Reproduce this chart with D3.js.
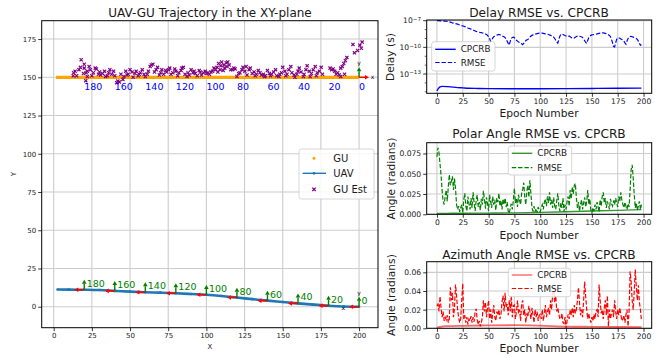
<!DOCTYPE html>
<html>
<head>
<meta charset="utf-8">
<script src="https://cdn.jsdelivr.net/npm/d3@7"></script>
<style>
  body { margin: 0; background: #fff; }
  svg { display: block; font-family: "DejaVu Sans", sans-serif; }
</style>
</head>
<body>
<svg id="chart" width="670" height="358"></svg>
<script>
// ---- trajectory data ----
const wpEpochs = [0, 10, 20, 30, 40, 50, 60, 70, 80, 90, 100, 110, 120, 130, 140, 150, 160, 170, 180, 190, 198];
const uavX = [200, 190, 180, 170, 160, 150, 140, 130, 120, 110, 100, 90, 80, 70, 60, 50, 40, 30, 20, 10, 2.5];
const uavY = [0, 0.2, 0.7, 1.4, 2.2, 3.1, 4.0, 5.0, 6.0, 7.0, 7.8, 8.3, 8.8, 9.2, 9.5, 9.9, 10.4, 10.9, 11.1, 11.2, 11.3];
const guX = [200, 190, 180, 170, 160, 150, 140, 130, 120, 110, 100, 90, 80, 70, 60, 50, 40, 30, 20, 10, 1.5];
const guY = [150, 150, 150, 150, 150, 150, 150, 150, 150, 150, 150, 150, 150, 150, 150, 150, 150, 150, 150, 150, 150];
const markEpochs = [0, 20, 40, 60, 80, 100, 120, 140, 160, 180];

const guEstX = [202, 200.5, 201.5, 199, 196, 197, 192, 191, 190, 189, 188, 190.5, 187, 186, 188, 185, 184, 183, 181, 182,
  176, 175.2, 174, 172.6, 172, 171.3, 170, 168.8, 168, 167.4, 166, 165.2, 164, 163.5, 162, 160.8, 160, 159.3, 158, 157.4,
  156, 155.3, 154, 152.8, 152, 151.4, 150, 149.2, 148, 147.5, 146, 145.3, 144, 142.7, 142, 141.2, 140, 138.6, 138, 137.3,
  136, 135.1, 134, 132.8, 132, 131.2, 130, 128.7, 128, 126.6, 126, 125.2, 124, 123.3, 122, 121.1, 120, 118.8, 118, 117.2,
  116, 115, 114, 113.5, 113, 112, 111.5, 111, 110, 109.5, 109, 108, 107.5, 107, 106, 105, 104, 103, 102, 101,
  100, 99.2, 98, 96.8, 96, 95.3, 94, 92.7, 92, 91.2, 90, 88.8, 88, 87.3, 86, 84.9, 84, 83.4, 82, 81.2,
  80, 79.3, 78, 76.8, 76, 75.2, 74, 73.3, 72, 70.8, 70, 69.2, 68, 67.1, 66, 65, 64, 63.2, 62, 61.3,
  60, 59.2, 58, 56.8, 56, 55.3, 54, 53.2, 52, 51.3, 50, 48.8, 48, 47.2, 46, 45.3, 44, 43, 42, 41.3,
  40, 39.2, 38, 36.8, 36, 35.2, 34, 33.3, 32, 30.7, 30, 29.3, 28, 27.2, 26, 25, 24, 23.2, 22, 21.3,
  20, 19.5, 18, 17.5, 16.5, 15, 14, 13, 12.8, 21, 22, 20];
const guEstY = [173, 171, 169, 167.5, 171.5, 166, 163, 161, 159, 157, 156, 152, 151.5, 153, 150.5, 152, 154, 155.5, 156, 155,
  152, 156.5, 154, 153, 151, 157, 155, 152.5, 150.5, 154, 157.5, 155, 152, 150.5, 153.5, 156, 154, 152, 150, 151.5,
  153, 157, 155, 152, 151, 154, 156.5, 153, 152, 150.5, 151, 155, 153.5, 152, 151, 152.5, 154.5, 151, 150.5, 152,
  151.5, 153, 154.5, 152, 151, 153.5, 152.5, 156, 155, 151.5, 157, 154, 156.5, 155, 153, 152.5, 150.5, 155.5, 156, 155,
  155, 158, 160, 157, 159.5, 156, 158, 154.5, 160, 157.5, 155, 159, 153.5, 156.5, 155, 156, 154, 153.5, 152, 153,
  152.5, 154, 153, 151.5, 153.5, 154.5, 151, 152.5, 154, 153, 155, 151.5, 153, 150.5, 152, 156.5, 156, 154.5, 153, 151,
  154, 155.5, 153, 152, 156, 155, 153.5, 154.5, 152, 155, 153, 151.5, 156.5, 155, 153.5, 158.5, 158, 157, 154, 152,
  150.5, 152, 155, 153, 152, 151, 154, 152.5, 150, 153.5, 155, 152, 151.5, 154, 150.5, 148.5, 152, 147, 147.5, 146.5,
  151, 154, 152, 155, 153, 151, 150.5, 154, 152.5, 151.5, 153.5, 152, 155.5, 156, 153, 151, 155, 157, 154, 153,
  158.5, 152.5, 161.5, 156.5, 155, 151, 154, 153, 151, 147.8, 150.5, 156];

// ---- error curves ----
const epochs = d3.range(199);
const delayRmseLog = [-7.0, -7.0, -7.0, -7.01, -7.02, -7.02, -7.03, -7.04, -7.05, -7.06, -7.08, -7.1, -7.12,
  -7.16, -7.2, -7.24, -7.27, -7.3, -7.33, -7.35, -7.38, -7.43, -7.47, -7.5, -7.55, -7.58, -7.62, -7.66, -7.7, -7.75,
  -7.82, -7.86, -7.9, -7.95, -8.0, -8.05, -8.1, -8.15, -8.2, -8.24, -8.27, -8.3, -8.33, -8.35, -8.38, -8.42, -8.45, -8.5, -8.55,
  -8.65, -8.8, -9.0, -9.35, -9.2, -8.95, -8.8, -8.75,
  -8.7, -8.62, -8.58, -8.55, -8.58, -8.64, -8.7, -8.76, -8.8, -8.9, -9.05, -9.3, -9.55, -9.75,
  -9.3, -9.0, -8.88, -8.85, -8.92, -9.05, -9.2, -9.3, -9.4, -9.45,
  -9.5, -9.6, -9.7, -9.55, -9.4, -9.25, -9.15, -9.12, -9.0, -8.85, -8.72, -8.65, -8.6, -8.57, -8.52,
  -8.48, -8.45, -8.42, -8.4, -8.39, -8.38, -8.4, -8.42, -8.45, -8.48, -8.5, -8.52, -8.55, -8.6, -8.65, -8.7, -8.76,
  -8.85, -9.0, -9.2, -9.4, -9.52, -9.1, -8.75, -8.52,
  -8.5, -8.55, -8.6, -8.66, -8.72, -8.76, -8.78, -8.72, -8.8, -8.9, -8.95, -9.0, -8.95, -8.85,
  -8.78, -8.74, -8.72, -8.75, -8.78, -8.8, -8.9, -9.05, -9.25, -9.45, -9.55,
  -9.2, -8.9, -8.75, -8.65, -8.6,
  -8.58, -8.55, -8.52, -8.5, -8.48, -8.45, -8.42, -8.4, -8.39, -8.38, -8.38, -8.39, -8.42, -8.46, -8.52, -8.58, -8.65, -8.8,
  -9.1, -9.5, -9.9, -9.95, -9.5, -9.1, -8.95,
  -8.92, -8.98, -9.05, -9.12, -9.15, -9.3, -9.5, -9.65, -9.3, -9.0, -8.85,
  -8.78, -8.76, -8.8, -8.85, -8.9, -8.95, -9.0, -9.1, -9.3, -9.55, -9.75, -9.7];
const delayCrbEpochs = [0, 1, 2, 3, 5, 10, 15, 20, 25, 30, 40, 50, 75, 100, 125, 150, 175, 198];
const delayCrbLog = [-14.9, -14.7, -14.55, -14.45, -14.4, -14.42, -14.47, -14.52, -14.56, -14.6, -14.63, -14.65, -14.66, -14.66, -14.65, -14.63, -14.6, -14.58];

const polarRmse = [0.071, 0.082, 0.076, 0.062, 0.048, 0.030, 0.016, 0.012, 0.022, 0.030,
  0.016, 0.034, 0.049, 0.036, 0.040, 0.047, 0.030, 0.044, 0.032, 0.012,
  0.006, 0.010, 0.003, 0.008, 0.012, 0.002, 0.018, 0.026, 0.010, 0.004,
  0.022, 0.013, 0.006, 0.020, 0.008, 0.027, 0.014, 0.004, 0.017, 0.024,
  0.009, 0.015, 0.005, 0.019, 0.012, 0.029, 0.018, 0.007, 0.021, 0.013,
  0.004, 0.024, 0.016, 0.008, 0.022, 0.012, 0.018, 0.005, 0.020, 0.015,
  0.026, 0.010, 0.017, 0.006, 0.019, 0.012, 0.020, 0.009, 0.015, 0.004,
  0.001, 0.008, 0.013, 0.006, 0.018, 0.032, 0.014, 0.020, 0.009, 0.024,
  0.017, 0.012, 0.026, 0.031, 0.039, 0.022, 0.012, 0.028, 0.036, 0.021,
  0.042, 0.025, 0.008, 0.004, 0.010, 0.003, 0.007, 0.002, 0.009, 0.005,
  0.003, 0.008, 0.012, 0.006, 0.015, 0.019, 0.010, 0.022, 0.014, 0.027,
  0.012, 0.018, 0.008, 0.021, 0.010, 0.006, 0.017, 0.026, 0.011, 0.004,
  0.014, 0.008, 0.020, 0.003, 0.012, 0.006, 0.016, 0.022, 0.010, 0.030,
  0.019, 0.034, 0.025, 0.036, 0.038, 0.020, 0.008, 0.015, 0.004, 0.012,
  0.018, 0.006, 0.014, 0.021, 0.009, 0.016, 0.030, 0.012, 0.019, 0.005,
  0.002, 0.008, 0.004, 0.012, 0.006, 0.015, 0.009, 0.003, 0.018, 0.010,
  0.022, 0.027, 0.014, 0.020, 0.008, 0.016, 0.011, 0.006, 0.019, 0.013,
  0.010, 0.017, 0.012, 0.020, 0.014, 0.009, 0.022, 0.016, 0.027, 0.018,
  0.012, 0.008, 0.015, 0.010, 0.006, 0.013, 0.009, 0.030, 0.055, 0.061,
  0.045, 0.024, 0.008, 0.014, 0.005, 0.010, 0.016, 0.006, 0.012];
const polarCrbEpochs = [0, 10, 25, 50, 75, 100, 125, 150, 175, 198];
const polarCrb = [0.0010, 0.0012, 0.0013, 0.0015, 0.0018, 0.0024, 0.0032, 0.0040, 0.0049, 0.0058];

const aziRmse = [0.024, 0.026, 0.018, 0.034, 0.022, 0.012, 0.018, 0.008, 0.012, 0.009,
  0.014, 0.006, 0.010, 0.044, 0.030, 0.038, 0.012, 0.022, 0.047, 0.035,
  0.020, 0.012, 0.006, 0.010, 0.030, 0.048, 0.010, 0.014, 0.006, 0.012,
  0.004, 0.010, 0.008, 0.013, 0.006, 0.012, 0.007, 0.018, 0.021, 0.009,
  0.004, 0.008, 0.002, 0.006, 0.012, 0.030, 0.018, 0.028, 0.012, 0.022,
  0.030, 0.010, 0.020, 0.006, 0.016, 0.025, 0.012, 0.008, 0.018, 0.014,
  0.020, 0.010, 0.015, 0.028, 0.035, 0.018, 0.038, 0.022, 0.026, 0.014,
  0.030, 0.018, 0.035, 0.012, 0.024, 0.025, 0.010, 0.018, 0.030, 0.016,
  0.020, 0.008, 0.026, 0.030, 0.014, 0.020, 0.006, 0.016, 0.012, 0.024,
  0.018, 0.010, 0.022, 0.014, 0.006, 0.020, 0.012, 0.018, 0.008, 0.014,
  0.015, 0.010, 0.020, 0.008, 0.016, 0.025, 0.012, 0.018, 0.022, 0.014,
  0.030, 0.020, 0.036, 0.044, 0.028, 0.035, 0.018, 0.022, 0.015, 0.010,
  0.010, 0.016, 0.006, 0.005, 0.012, 0.000, 0.008, 0.015, 0.010, 0.020,
  0.014, 0.022, 0.012, 0.025, 0.016, 0.020, 0.030, 0.044, 0.028, 0.014,
  0.020, 0.012, 0.030, 0.050, 0.034, 0.020, 0.010, 0.016, 0.010, 0.006,
  0.012, 0.008, 0.015, 0.010, 0.018, 0.020, 0.012, 0.047, 0.030, 0.016,
  0.020, 0.010, 0.022, 0.030, 0.014, 0.035, 0.002, 0.020, 0.010, 0.016,
  0.020, 0.012, 0.030, 0.018, 0.010, 0.020, 0.014, 0.022, 0.015, 0.008,
  0.010, 0.014, 0.006, 0.015, 0.020, 0.002, 0.018, 0.061, 0.050, 0.030,
  0.020, 0.040, 0.063, 0.045, 0.030, 0.046, 0.028, 0.020, 0.008];
const aziCrbEpochs = [0, 3, 6, 10, 25, 50, 75, 100, 125, 150, 175, 198];
const aziCrb = [0.0004, 0.0014, 0.0020, 0.0023, 0.0027, 0.0031, 0.0033, 0.0028, 0.0019, 0.0016, 0.0014, 0.0013];

const xyTicks = [0, 25, 50, 75, 100, 125, 150, 175, 200];
const yTicksLeft = [0, 25, 50, 75, 100, 125, 150, 175];
const epochTicks = [0, 25, 50, 75, 100, 125, 150, 175, 200];

// ---- drawing ----
const svg = d3.select("#chart");
const GRID = "#cccccc";
const TXT = "#1a1a1a";

function panel(id, x, y, xTicks, yTicks, yFmt, fs, gridY) {
  const [x0, x1] = x.range();
  const [yb, yt] = y.range();
  const g = svg.append("g");
  g.append("clipPath").attr("id", id).append("rect")
    .attr("x", x0).attr("y", yt).attr("width", x1 - x0).attr("height", yb - yt);
  g.selectAll(".vg").data(xTicks).join("line")
    .attr("x1", d => x(d)).attr("x2", d => x(d)).attr("y1", yb).attr("y2", yt)
    .attr("stroke", GRID).attr("stroke-width", 1.1);
  g.selectAll(".hg").data(gridY || yTicks).join("line")
    .attr("y1", d => y(d)).attr("y2", d => y(d)).attr("x1", x0).attr("x2", x1)
    .attr("stroke", GRID).attr("stroke-width", 1.1);

  const ax = g.append("g").attr("transform", `translate(0,${yb})`)
    .call(d3.axisBottom(x).tickValues(xTicks).tickSize(3.5).tickPadding(2).tickFormat(d3.format("d")));
  const ay = g.append("g").attr("transform", `translate(${x0},0)`)
    .call(d3.axisLeft(y).tickValues(yTicks).tickSize(3.5).tickPadding(2).tickFormat(yFmt));
  [ax, ay].forEach(a => {
    a.select(".domain").remove();
    a.selectAll("line").attr("stroke", "#000").attr("stroke-width", 0.8);
    a.selectAll("text").attr("font-size", fs).attr("fill", TXT).attr("font-family", "DejaVu Sans");
  });
  const data = g.append("g").attr("clip-path", `url(#${id})`);
  g.append("rect").attr("x", x0).attr("y", yt).attr("width", x1 - x0).attr("height", yb - yt)
    .attr("fill", "none").attr("stroke", "#000").attr("stroke-width", 1);
  return data;
}

function text(str, x, y, fs, opts = {}) {
  const t = svg.append("text").attr("x", x).attr("y", y).attr("font-size", fs)
    .attr("fill", opts.fill || TXT).attr("text-anchor", opts.anchor || "middle")
    .attr("dy", opts.dy || "0.35em").text(str);
  if (opts.rotate) t.attr("transform", `rotate(-90,${x},${y})`);
  return t;
}

function arrow(g, x1, y1, x2, y2, color, w) {
  const dx = x2 - x1, dy = y2 - y1, len = Math.hypot(dx, dy);
  const ux = dx / len, uy = dy / len, hl = 4, hw = 2.3;
  const bx = x2 - ux * hl, by = y2 - uy * hl;
  g.append("line").attr("x1", x1).attr("y1", y1).attr("x2", bx).attr("y2", by)
    .attr("stroke", color).attr("stroke-width", w);
  g.append("path").attr("fill", color)
    .attr("d", `M${x2},${y2}L${bx - uy * hw},${by + ux * hw}L${bx + uy * hw},${by - ux * hw}Z`);
}

// ===== left: trajectory =====
const xL = d3.scaleLinear().domain([-7.86, 212.4]).range([41.7, 378]);
const yL = d3.scaleLinear().domain([-13.7, 187]).range([327.7, 20.7]);
const gL = panel("clipL", xL, yL, xyTicks, yTicksLeft, d3.format("d"), 7);

gL.append("path")
  .attr("d", d3.line().x((d, i) => xL(d)).y((d, i) => yL(guY[i]))(guX))
  .attr("fill", "none").attr("stroke", "orange").attr("stroke-width", 3.2);

gL.append("path")
  .attr("d", d3.line().curve(d3.curveMonotoneX).x(d => xL(d)).y((d, i) => yL(uavY[i]))(uavX))
  .attr("fill", "none").attr("stroke", "#1f77b4").attr("stroke-width", 2.6);
gL.selectAll(".uavdot").data(uavX).join("circle")
  .attr("cx", d => xL(d)).attr("cy", (d, i) => yL(uavY[i])).attr("r", 1.3).attr("fill", "#1f77b4");

const est = gL.append("g").attr("stroke", "purple").attr("stroke-width", 1.15);
guEstX.forEach((gx, i) => {
  const cx = xL(gx), cy = yL(guEstY[i]), s = 1.6;
  est.append("path").attr("d", `M${cx - s},${cy - s}L${cx + s},${cy + s}M${cx - s},${cy + s}L${cx + s},${cy - s}`);
});

const unit = xL(6.5) - xL(0);
markEpochs.forEach(ep => {
  const i = wpEpochs.indexOf(ep);
  const px = xL(uavX[i]), py = yL(uavY[i]);
  arrow(gL, px, py, px - unit, py, "red", 1.6);
  arrow(gL, px, py, px, py - unit, "green", 1.4);
  svg.append("text").attr("x", px + 2.5).attr("y", py - 3).attr("font-size", 9.5)
    .attr("fill", "green").text(ep);
  const gx = xL(guX[i]);
  svg.append("text").attr("x", gx).attr("y", yL(150) + 13).attr("font-size", 9.5)
    .attr("fill", "blue").text(ep);
});
// frame tags
text("x", xL(189.7), yL(0) + 1, 6, { fill: "#000" });
text("y", xL(200), yL(0) - unit - 4, 6, { fill: "#000" });
arrow(gL, xL(200), yL(150), xL(200), yL(150) - unit, "green", 1.4);
arrow(gL, xL(200), yL(150), xL(200) + unit, yL(150), "red", 1.6);
text("y", xL(200), yL(150) - unit - 4, 6, { fill: "#000" });
text("x", xL(200) + unit + 3.5, yL(150), 6, { fill: "#000" });

text("UAV-GU Trajectory in the XY-plane", 210, 12.5, 12);
text("X", 210, 346.5, 7);
text("Y", 13.5, 174, 7, { rotate: true });

// left legend
const lg = svg.append("g");
lg.append("rect").attr("x", 299).attr("y", 149).attr("width", 75).attr("height", 50).attr("rx", 2.5)
  .attr("fill", "white").attr("fill-opacity", 0.85).attr("stroke", "#cccccc").attr("stroke-width", 0.8);
lg.append("circle").attr("cx", 314).attr("cy", 158.3).attr("r", 1.5).attr("fill", "orange");
lg.append("line").attr("x1", 302.7).attr("x2", 326).attr("y1", 173.3).attr("y2", 173.3)
  .attr("stroke", "#1f77b4").attr("stroke-width", 1.4);
lg.append("circle").attr("cx", 314).attr("cy", 173.3).attr("r", 1.4).attr("fill", "#1f77b4");
lg.append("path").attr("d", "M312.3,187.6L315.7,191M312.3,191L315.7,187.6").attr("stroke", "purple").attr("stroke-width", 1.3);
[["GU", 158.3], ["UAV", 173.3], ["GU Est", 189.3]].forEach(([s, y]) =>
  text(s, 333.3, y, 10, { anchor: "start" }));

// ===== right panels =====
const xR = d3.scaleLinear().domain([-9.9, 207.9]).range([426.7, 651.7]);

function legend(x, y, w, h, r1, r2, color, solidOpacity) {
  const g = svg.append("g");
  g.append("rect").attr("x", x).attr("y", y).attr("width", w).attr("height", h).attr("rx", 2.5)
    .attr("fill", "white").attr("fill-opacity", 0.85).attr("stroke", "#cccccc").attr("stroke-width", 0.8);
  g.append("line").attr("x1", x + 3.5).attr("x2", x + 24).attr("y1", r1).attr("y2", r1)
    .attr("stroke", color).attr("stroke-width", 1.4).attr("stroke-opacity", solidOpacity);
  g.append("line").attr("x1", x + 3.5).attr("x2", x + 24).attr("y1", r2).attr("y2", r2)
    .attr("stroke", color).attr("stroke-width", 1.2).attr("stroke-dasharray", "4.4,1.9");
  text("CPCRB", x + 29, r1, 8.8, { anchor: "start" });
  text("RMSE", x + 29, r2, 8.8, { anchor: "start" });
}

// delay (log)
const yD = d3.scaleLog().domain([Math.pow(10, -15.17), Math.pow(10, -6.92)]).range([93.3, 20]);
const dMajor = [1e-13, 1e-10, 1e-7];
const gD = panel("clipD", xR, yD, epochTicks, [], null, 7.6, dMajor);
const dAx = svg.append("g");
dMajor.forEach(v => {
  const py = yD(v);
  dAx.append("line").attr("x1", 423.2).attr("x2", 426.7).attr("y1", py).attr("y2", py)
    .attr("stroke", "#000").attr("stroke-width", 0.8);
  const t = dAx.append("text").attr("x", 421).attr("y", py).attr("dy", "0.35em")
    .attr("text-anchor", "end").attr("font-size", 7.6).attr("fill", TXT);
  t.append("tspan").text("10");
  t.append("tspan").attr("dy", "-0.45em").attr("font-size", 5.6).text("\u2212" + Math.round(-Math.log10(v)));
});
[-15, -14, -12, -11, -9, -8].forEach(e => {
  const py = yD(Math.pow(10, e));
  dAx.append("line").attr("x1", 424.7).attr("x2", 426.7).attr("y1", py).attr("y2", py)
    .attr("stroke", "#000").attr("stroke-width", 0.6);
});
gD.append("path")
  .attr("d", d3.line().curve(d3.curveMonotoneX).x((d, i) => xR(d)).y((d, i) => yD(Math.pow(10, delayCrbLog[i])))(delayCrbEpochs))
  .attr("fill", "none").attr("stroke", "blue").attr("stroke-width", 1.3);
gD.append("path")
  .attr("d", d3.line().x((d, i) => xR(d)).y((d, i) => yD(Math.pow(10, delayRmseLog[i])))(epochs))
  .attr("fill", "none").attr("stroke", "blue").attr("stroke-width", 1.2).attr("stroke-dasharray", "4.4,1.9");
text("Delay RMSE vs. CPCRB", 539, 12.3, 12.2);
text("Epoch Number", 539, 113.3, 10.7);
text("Delay (s)", 390, 57, 10.7, { rotate: true });
legend(431.7, 41.7, 63.3, 29.3, 49.3, 62.5, "blue", 1);

// polar
const yP = d3.scaleLinear().domain([0, 0.0883]).range([214.3, 142.7]);
const gP = panel("clipP", xR, yP, epochTicks, [0, 0.025, 0.05, 0.075], d3.format(".3f"), 7.6);
gP.append("path")
  .attr("d", d3.line().curve(d3.curveMonotoneX).x(d => xR(d)).y((d, i) => yP(polarCrb[i]))(polarCrbEpochs))
  .attr("fill", "none").attr("stroke", "green").attr("stroke-width", 1.4).attr("stroke-opacity", 0.8);
gP.append("path")
  .attr("d", d3.line().x(d => xR(d)).y((d, i) => yP(polarRmse[i]))(epochs))
  .attr("fill", "none").attr("stroke", "green").attr("stroke-width", 1.2).attr("stroke-dasharray", "4.4,1.9");
text("Polar Angle RMSE vs. CPCRB", 539, 133.3, 12.2);
text("Epoch Number", 539, 235, 10.7);
text("Angle (radians)", 391.5, 178.5, 10.7, { rotate: true });
legend(508.3, 146, 63.4, 29, 153.3, 167.7, "green", 0.8);

// azimuth
const yA = d3.scaleLinear().domain([0, 0.0714]).range([328.3, 261.7]);
const gA = panel("clipA", xR, yA, epochTicks, [0, 0.02, 0.04, 0.06], d3.format(".2f"), 7.6);
gA.append("path")
  .attr("d", d3.line().curve(d3.curveMonotoneX).x(d => xR(d)).y((d, i) => yA(aziCrb[i]))(aziCrbEpochs))
  .attr("fill", "none").attr("stroke", "red").attr("stroke-width", 1.8).attr("stroke-opacity", 0.6);
gA.append("path")
  .attr("d", d3.line().x(d => xR(d)).y((d, i) => yA(aziRmse[i]))(epochs))
  .attr("fill", "none").attr("stroke", "red").attr("stroke-width", 1.2).attr("stroke-dasharray", "4.4,1.9");
text("Azimuth Angle RMSE vs. CPCRB", 539, 254.3, 12.2);
text("Epoch Number", 539, 348.3, 10.7);
text("Angle (radians)", 391.5, 295, 10.7, { rotate: true });
legend(508.3, 268.3, 62.4, 28.4, 275, 288.5, "red", 0.6);
</script>
</body>
</html>
